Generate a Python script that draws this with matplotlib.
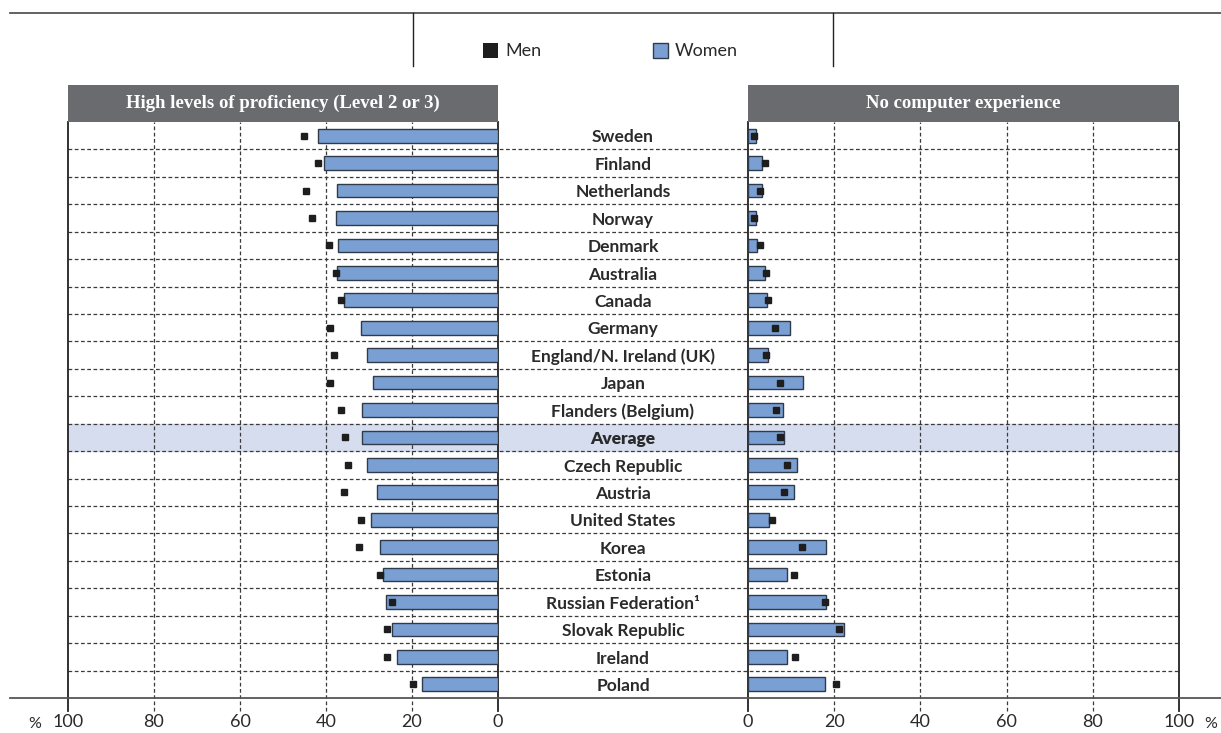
import matplotlib
matplotlib.use("Agg")
import matplotlib.pyplot as plt
from matplotlib.lines import Line2D
from matplotlib.patches import Rectangle
from matplotlib.transforms import blended_transform_factory

# data, top row first
countries = [
    "Sweden", "Finland", "Netherlands", "Norway", "Denmark", "Australia", "Canada",
    "Germany", "England/N. Ireland (UK)", "Japan", "Flanders (Belgium)", "Average",
    "Czech Republic", "Austria", "United States", "Korea", "Estonia",
    "Russian Federation\u00b9", "Slovak Republic", "Ireland", "Poland",
]
prof_women = [41.8, 40.4, 37.5, 37.7, 37.1, 37.4, 35.7, 31.9, 30.5, 29.0, 31.6, 31.6,
              30.4, 28.1, 29.5, 27.4, 26.7, 26.1, 24.7, 23.6, 17.6]
prof_men = [45.1, 41.9, 44.6, 43.2, 39.2, 37.7, 36.4, 39.1, 38.1, 39.1, 36.4, 35.5,
            34.8, 35.8, 31.9, 32.4, 27.4, 24.7, 25.7, 25.9, 19.8]
nocomp_women = [1.9, 3.2, 3.2, 1.9, 2.1, 3.9, 4.3, 9.7, 4.7, 12.8, 8.2, 8.4,
                11.4, 10.7, 4.9, 18.2, 9.0, 18.2, 22.2, 9.1, 17.9]
nocomp_men = [1.3, 3.9, 2.9, 1.5, 2.9, 4.1, 4.7, 6.2, 4.1, 7.5, 6.6, 7.5,
              9.1, 8.3, 5.6, 12.5, 10.7, 17.9, 21.2, 10.8, 20.5]
ticks = [0, 20, 40, 60, 80, 100]

W, H = 1221, 733
BAR = "#7a9fd3"
EDGE = "#2f3a4a"
HEAD = "#6a6b6f"
GRID = "#3a3a3a"
HILITE = "#d5ddef"
SANS = "Lato"
SERIF = "Liberation Serif"


def fx(px):
    return px / W


def fy(py):
    return 1 - py / H


fig = plt.figure(figsize=(W / 100, H / 100), dpi=100)
fig.patch.set_facecolor("white")

top, bot = 122, 698
L0, L1 = 68, 498  # left panel pixel extent (100 .. 0)
R0, R1 = 748, 1179  # right panel pixel extent (0 .. 100)
axL = fig.add_axes([fx(L0), fy(bot), fx(L1 - L0), (bot - top) / H])
axR = fig.add_axes([fx(R0), fy(bot), fx(R1 - R0), (bot - top) / H])

n = len(countries)
ypos = list(range(n))
ext = 13 / (bot - top)  # grid lines poke 13 px below the baseline

for ax, women, men, inv in [(axL, prof_women, prof_men, True), (axR, nocomp_women, nocomp_men, False)]:
    ax.set_ylim(n - 0.5, -0.5)
    ax.set_xlim((100, 0) if inv else (0, 100))
    ax.barh(ypos, women, height=0.5, color=BAR, edgecolor=EDGE, linewidth=1.0, zorder=3)
    ax.plot(men, ypos, "s", color="#1e1e1e", ms=5, zorder=4, linestyle="none")
    for t in ticks:
        solid = t in (0, 100)
        ax.axvline(t, ymin=-ext, ymax=1, clip_on=False, color="#222" if solid else GRID,
                   lw=1.3 if solid else 0.9, ls="-" if solid else (0, (3, 2)), zorder=2)
    for s in ax.spines.values():
        s.set_visible(False)
    ax.set_xticks([])
    ax.set_yticks([])
    ax.patch.set_alpha(0)

# row separators and highlighted average row, across both panels and the label column
span = (R1 - L0) / (L1 - L0)
for i in range(n - 1):
    axL.axhline(i + 0.5, xmin=0, xmax=span, clip_on=False, color=GRID, lw=0.9,
                ls=(0, (3, 2)), zorder=1)
avg = countries.index("Average")
axL.axhspan(avg - 0.5, avg + 0.5, xmin=0, xmax=span, clip_on=False, color=HILITE, zorder=0)

# country labels in the middle column
tr = blended_transform_factory(fig.transFigure, axL.transData)
for i, c in enumerate(countries):
    axL.text(fx(623), i + 0.06, c, transform=tr, ha="center", va="center", fontsize=12.5,
             family=SANS, weight="heavy" if c == "Average" else "bold", color="#2a2a2a",
             zorder=5, clip_on=False)

# tick labels
for t in ticks:
    fig.text(fx(L1 - t * (L1 - L0) / 100), fy(722), str(t), ha="center", va="center",
             fontsize=13, family=SANS, color="#2a2a2a")
    fig.text(fx(R0 + t * (R1 - R0) / 100), fy(722), str(t), ha="center", va="center",
             fontsize=13, family=SANS, color="#2a2a2a")
fig.text(fx(35), fy(724), "%", ha="center", va="center", fontsize=11.5, family=SANS, color="#2a2a2a")
fig.text(fx(1211), fy(724), "%", ha="center", va="center", fontsize=11.5, family=SANS, color="#2a2a2a")

# frame lines
fig.add_artist(Line2D([fx(10), fx(1221)], [fy(698), fy(698)], color="#555", lw=1.3))
fig.add_artist(Line2D([fx(10), fx(1221)], [fy(13), fy(13)], color="#555", lw=1.3))
for xp in (413, 833):
    fig.add_artist(Line2D([fx(xp), fx(xp)], [fy(13), fy(66)], color="#222", lw=1.0))

# panel headers
for x0, x1, title in [(L0, L1, "High levels of proficiency (Level 2 or 3)"),
                      (R0, R1, "No computer experience")]:
    fig.add_artist(Rectangle((fx(x0), fy(122)), fx(x1 - x0), (122 - 85) / H,
                             transform=fig.transFigure, facecolor=HEAD, edgecolor="none"))
    fig.text(fx((x0 + x1) / 2), fy(103), title, ha="center", va="center", fontsize=13.5,
             family=SERIF, weight="bold", color="white")

# legend
fig.add_artist(Rectangle((fx(483), fy(58)), fx(15), 15 / H, transform=fig.transFigure,
                         facecolor="#1e1e1e", edgecolor="none"))
fig.text(fx(505), fy(51), "Men", ha="left", va="center", fontsize=13, family=SANS, color="#2a2a2a")
fig.add_artist(Rectangle((fx(653), fy(58)), fx(15), 15 / H, transform=fig.transFigure,
                         facecolor=BAR, edgecolor=EDGE, lw=1.0))
fig.text(fx(675), fy(51), "Women", ha="left", va="center", fontsize=13, family=SANS, color="#2a2a2a")

fig.savefig("out.png", dpi=100, facecolor="white")
